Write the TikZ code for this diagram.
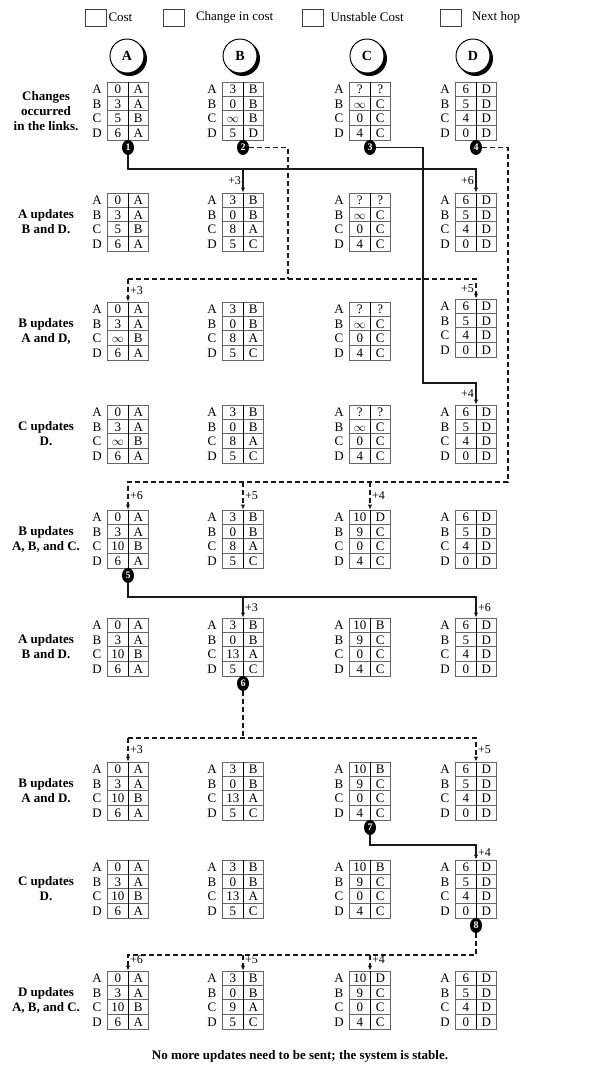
\documentclass[tikz,border=0pt]{standalone}
\usepackage{fontspec}
\setmainfont{Liberation Serif}
\usetikzlibrary{positioning,arrows.meta,shapes.geometric,calc}
\tikzset{
  keybox/.style  ={rectangle, draw=black!75, line width=0.6pt, minimum width=21pt,
                   minimum height=17pt, inner sep=0pt},
  keytext/.style ={font=\fontsize{13}{15}\selectfont, inner sep=0pt},
  router/.style  ={circle, draw=black, line width=1pt, fill=white, minimum size=34pt,
                   inner sep=0pt, font=\fontsize{14}{16}\selectfont\bfseries},
  tframe/.style  ={rectangle, draw=black!60, line width=0.9pt, minimum width=41pt,
                   minimum height=58pt, inner sep=0pt},
  cellline/.style={draw=black!60, line width=0.8pt},
  divline/.style ={draw=black, line width=0.7pt},
  ctext/.style   ={font=\fontsize{13}{13}\selectfont, inner sep=0pt,
                   text height=8.5pt, text depth=0pt},
  rowlbl/.style  ={font=\fontsize{13}{15}\selectfont\bfseries, align=center, inner sep=0pt},
  seqdot/.style  ={ellipse, fill=black, text=white, minimum width=12pt, minimum height=15pt,
                   inner sep=0pt, font=\fontsize{10}{10}\selectfont\bfseries},
  link/.style    ={draw=black!90, line width=1.3pt},
  flow/.style    ={-{Latex[length=5pt,width=4.5pt]}, draw=black!90, line width=1.3pt},
  dashlink/.style={draw=black!90, line width=1.2pt, dash pattern=on 5pt off 3pt},
  dashflow/.style={-{Latex[length=5pt,width=4.5pt]}, draw=black!90, line width=1.2pt,
                   dash pattern=on 5pt off 3pt},
  delta/.style   ={font=\fontsize{12}{12}\selectfont, inner sep=1.5pt}
}

% one routing table: name, x of the divider, top, cost/hop pairs
\newcommand{\rtable}[4]{%
  \node[tframe] (#1) at (#2,#3+29) {};
  \foreach \k in {1,2,3}
    \draw[cellline] ($(#1.north west)+(0,\k*14.5)$) -- ($(#1.north east)+(0,\k*14.5)$);
  \draw[divline] (#1.north) -- (#1.south);
  \foreach \costv/\hopv [count=\ri] in {#4} {
    \node[ctext] at (#2-10.25,#3+\ri*14.5-7.25) {\costv};
    \node[ctext] at (#2+10.25,#3+\ri*14.5-7.25) {\hopv};
  }
  \foreach \rl [count=\ri] in {A,B,C,D}
    \node[ctext] at (#2-31,#3+\ri*14.5-7.25) {\rl};
}

\begin{document}
\begin{tikzpicture}[x=1pt,y=-1pt]
\useasboundingbox (0,0) rectangle (598,1069);

%% ---- Legend ----------------------------------------------------------
\node[keybox] (k1) at (95.5,17.5) {};
\node[keytext, right=2pt of k1] (t1) {Cost};
\node[keybox] (k2) at (174,17.5) {};
\node[keytext, right=11pt of k2] (t2) {Change in cost};
\node[keybox] (k3) at (312.5,17.5) {};
\node[keytext, right=7pt of k3] (t3) {Unstable Cost};
\node[keybox] (k4) at (451,17.5) {};
\node[keytext, right=10pt of k4] (t4) {Next hop};

%% ---- Routers ---------------------------------------------------------
\foreach \nm/\xx in {A/127,B/240,C/367,D/473} {
  \fill[black] (\xx+2.5,56+2.5) circle (17.5);
  \node[router] (n\nm) at (\xx,56) {\nm};
}

%% ---- Tables, one row of four per step --------------------------------
\node[rowlbl] (l1) at (46,111) {Changes\\occurred\\in the links.};
\rtable{r1a}{128}{82}{0/A,3/A,5/B,6/A}
\rtable{r1b}{243}{82}{3/B,0/B,$\infty$/B,5/D}
\rtable{r1c}{370}{82}{?/?,$\infty$/C,0/C,4/C}
\rtable{r1d}{476}{82}{6/D,5/D,4/D,0/D}

\node[rowlbl] (l2) at (46,222) {A updates\\B and D.};
\rtable{r2a}{128}{193}{0/A,3/A,5/B,6/A}
\rtable{r2b}{243}{193}{3/B,0/B,8/A,5/C}
\rtable{r2c}{370}{193}{?/?,$\infty$/C,0/C,4/C}
\rtable{r2d}{476}{193}{6/D,5/D,4/D,0/D}

\node[rowlbl] (l3) at (46,331) {B updates\\A and D,};
\rtable{r3a}{128}{302}{0/A,3/A,$\infty$/B,6/A}
\rtable{r3b}{243}{302}{3/B,0/B,8/A,5/C}
\rtable{r3c}{370}{302}{?/?,$\infty$/C,0/C,4/C}
\rtable{r3d}{476}{299}{6/D,5/D,4/D,0/D}

\node[rowlbl] (l4) at (46,434) {C updates\\D.};
\rtable{r4a}{128}{405}{0/A,3/A,$\infty$/B,6/A}
\rtable{r4b}{243}{405}{3/B,0/B,8/A,5/C}
\rtable{r4c}{370}{405}{?/?,$\infty$/C,0/C,4/C}
\rtable{r4d}{476}{405}{6/D,5/D,4/D,0/D}

\node[rowlbl] (l5) at (46,539) {B updates\\A, B, and C.};
\rtable{r5a}{128}{510}{0/A,3/A,10/B,6/A}
\rtable{r5b}{243}{510}{3/B,0/B,8/A,5/C}
\rtable{r5c}{370}{510}{10/D,9/C,0/C,4/C}
\rtable{r5d}{476}{510}{6/D,5/D,4/D,0/D}

\node[rowlbl] (l6) at (46,647) {A updates\\B and D.};
\rtable{r6a}{128}{618}{0/A,3/A,10/B,6/A}
\rtable{r6b}{243}{618}{3/B,0/B,13/A,5/C}
\rtable{r6c}{370}{618}{10/B,9/C,0/C,4/C}
\rtable{r6d}{476}{618}{6/D,5/D,4/D,0/D}

\node[rowlbl] (l7) at (46,791) {B updates\\A and D.};
\rtable{r7a}{128}{762}{0/A,3/A,10/B,6/A}
\rtable{r7b}{243}{762}{3/B,0/B,13/A,5/C}
\rtable{r7c}{370}{762}{10/B,9/C,0/C,4/C}
\rtable{r7d}{476}{762}{6/D,5/D,4/D,0/D}

\node[rowlbl] (l8) at (46,889) {C updates\\D.};
\rtable{r8a}{128}{860}{0/A,3/A,10/B,6/A}
\rtable{r8b}{243}{860}{3/B,0/B,13/A,5/C}
\rtable{r8c}{370}{860}{10/B,9/C,0/C,4/C}
\rtable{r8d}{476}{860}{6/D,5/D,4/D,0/D}

\node[rowlbl] (l9) at (46,1000) {D updates\\A, B, and C.};
\rtable{r9a}{128}{971}{0/A,3/A,10/B,6/A}
\rtable{r9b}{243}{971}{3/B,0/B,9/A,5/C}
\rtable{r9c}{370}{971}{10/D,9/C,0/C,4/C}
\rtable{r9d}{476}{971}{6/D,5/D,4/D,0/D}

%% ---- Event markers ---------------------------------------------------
\node[seqdot] (m1) at ($(r1a.south)+(0,7)$) {1};
\node[seqdot] (m2) at ($(r1b.south)+(0,7)$) {2};
\node[seqdot] (m3) at ($(r1c.south)+(0,7)$) {3};
\node[seqdot] (m4) at ($(r1d.south)+(0,7)$) {4};
\node[seqdot] (m5) at ($(r5a.south)+(0,7)$) {5};
\node[seqdot] (m6) at ($(r6b.south)+(0,7)$) {6};
\node[seqdot] (m7) at ($(r7c.south)+(0,7)$) {7};
\node[seqdot] (m8) at ($(r8d.south)+(0,7)$) {8};

%% ---- Update messages -------------------------------------------------
\coordinate (lv1) at (0,169);
\draw[flow] (m1.south) |- (lv1 -| r2d) -- node[delta,left]{+6} (r2d.north);
\draw[flow] (lv1 -| r2b) -- node[delta,left]{+3} (r2b.north);

\coordinate (lv2) at (0,279);
\coordinate (j2) at (288,0);
\draw[dashlink] (m2.east) -| (j2 |- lv2);
\draw[dashflow] (lv2 -| r3a) -- (lv2 -| r3d) -- node[delta,left]{+5} (r3d.north);
\draw[dashflow] (lv2 -| r3a) -- node[delta,right]{+3} (r3a.north);

\coordinate (lv3) at (0,383);
\coordinate (j3) at (423,0);
\draw[flow] (m3.east) -| (j3 |- lv3) -- (lv3 -| r4d) -- node[delta,left]{+4} (r4d.north);

\coordinate (lv4) at (0,482);
\coordinate (j4) at (508,0);
\draw[dashflow] (m4.east) -| (j4 |- lv4) -- (lv4 -| r5a) -- node[delta,right]{+6} (r5a.north);
\draw[dashflow] (lv4 -| r5b) -- node[delta,right]{+5} (r5b.north);
\draw[dashflow] (lv4 -| r5c) -- node[delta,right]{+4} (r5c.north);

\coordinate (lv5) at (0,597);
\draw[flow] (m5.south) |- (lv5 -| r6d) -- node[delta,right]{+6} (r6d.north);
\draw[flow] (lv5 -| r6b) -- node[delta,right]{+3} (r6b.north);

\coordinate (lv6) at (0,738);
\draw[dashlink] (m6.south) -- (lv6 -| m6);
\draw[dashflow] (lv6 -| r7a) -- (lv6 -| r7d) -- node[delta,right]{+5} (r7d.north);
\draw[dashflow] (lv6 -| r7a) -- node[delta,right]{+3} (r7a.north);

\coordinate (lv7) at (0,845);
\draw[flow] (m7.south) |- (lv7 -| r8d) -- node[delta,right]{+4} (r8d.north);

\coordinate (lv8) at (0,955);
\draw[dashflow] (m8.south) |- (lv8 -| r9a) -- node[delta,right,pos=0.3]{+6} (r9a.north);
\draw[dashflow] (lv8 -| r9b) -- node[delta,right,pos=0.3]{+5} (r9b.north);
\draw[dashflow] (lv8 -| r9c) -- node[delta,right,pos=0.3]{+4} (r9c.north);

%% ---- Closing note ----------------------------------------------------
\node[rowlbl] (note) at (300,1056) {No more updates need to be sent; the system is stable.};
\end{tikzpicture}
\end{document}
